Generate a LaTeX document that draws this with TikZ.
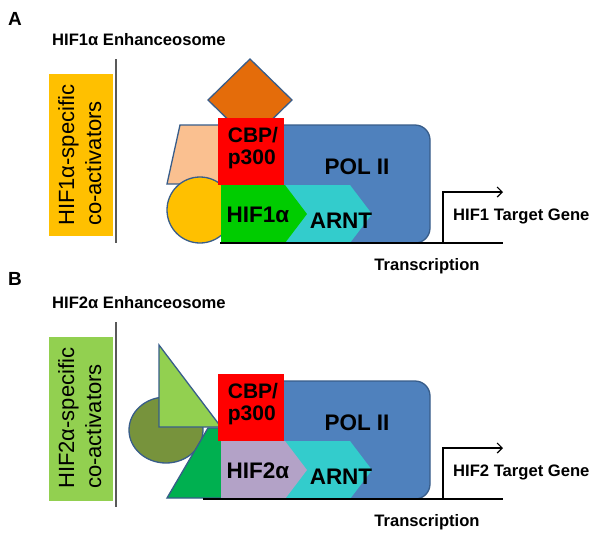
\documentclass[tikz,border=0pt]{standalone}
\usepackage{fontspec}
\setmainfont{Liberation Sans}
\usetikzlibrary{arrows.meta}
\definecolor{outc}{HTML}{385D8A}
\definecolor{goldc}{HTML}{FFC000}
\definecolor{diamc}{HTML}{E46C0A}
\definecolor{peachc}{HTML}{FAC090}
\definecolor{polc}{HTML}{4F81BD}
\definecolor{hifonec}{HTML}{00CC00}
\definecolor{arntc}{HTML}{33CCCC}
\definecolor{hiftwoc}{HTML}{B3A2C7}
\definecolor{ltgreenc}{HTML}{92D050}
\definecolor{olivec}{HTML}{77933C}
\definecolor{dkgreenc}{HTML}{00B050}
\definecolor{sepc}{HTML}{595959}
\begin{document}
\begin{tikzpicture}[x=1pt,y=-1pt,
  outl/.style={draw=outc, line width=1.3pt},
  big/.style={font=\fontsize{22.5}{22}\selectfont\bfseries, inner sep=0pt, align=left},
  cbp/.style={font=\fontsize{21}{22}\selectfont\bfseries, inner sep=0pt, align=left},
  lab/.style={font=\fontsize{16.6}{19}\selectfont\bfseries, inner sep=0pt},
  panel/.style={font=\fontsize{19}{22}\selectfont\bfseries, inner sep=0pt},
  rot/.style={font=\fontsize{22}{24}\selectfont, rotate=90, anchor=base west, inner sep=0pt},
  dna/.style={line width=1.2pt, black},
  sep/.style={line width=1.3pt, sepc}]
\useasboundingbox (0,0) rectangle (600,539);
\fill[white] (0,0) rectangle (600,539);

% ================= Panel A =================
\node[panel] (pA) at (15,19) {A};
\node[lab, anchor=base west] (hA) at (52,45) {HIF1α Enhanceosome};
\fill[goldc] (49,74) rectangle (113,236);
\node[rot] (rA1) at (74,226) {HIF1α-specific};
\node[rot] (rA2) at (101,226) {co-activators};
\coordinate (sA1) at (116,59);
\coordinate (sA2) at (116,243);
\draw[sep] (sA1) -- (sA2);

\begin{scope}
  % co-activators
  \draw[outl, fill=peachc] (180,125) -- (245,125) -- (258,184) -- (167,184) -- cycle;
  \draw[outl, fill=goldc] (200,210) circle (33);
  \draw[outl, fill=diamc] (250,59) -- (292,100) -- (250,141) -- (208,100) -- cycle;
  % POL II
  \draw[outl, fill=polc, rounded corners=15pt] (266,125) rectangle (430,243);
  % CBP
  \fill[red] (218,118) rectangle (284,185);
  % ARNT
  \fill[arntc] (283,185) -- (350,185) -- (372,214) -- (350,243) -- (283,243) -- cycle;
  % HIF1a
  \fill[hifonec] (221,185) -- (285,185) -- (307,214) -- (285,243) -- (221,243) -- cycle;
  \node[cbp] (cbpA) at (253,148) {CBP/\\p300};
  \node[big] (polA) at (357,167) {POL II};
  \node[big] (hifA) at (258,215) {HIF1α};
  \node[big] (arntA) at (341,221) {ARNT};
  \coordinate (bA1) at (220,243);
  \coordinate (bA2) at (503,243);
  \coordinate (tA0) at (443,243);
  \coordinate (tA1) at (503,192);
  \draw[dna] (bA1) -- (bA2);
  \draw[dna, -{Straight Barb[length=5pt,width=10pt]}] (tA0) |- (tA1);
  \node[lab, anchor=base west] (gA) at (453,220) {HIF1 Target Gene};
  \node[lab] (trA) at (427,266) {Transcription};
\end{scope}

% ================= Panel B =================
\node[panel] (pB) at (15,279) {B};
\node[lab, anchor=base west] (hB) at (52,308) {HIF2α Enhanceosome};
\fill[ltgreenc] (49,337) rectangle (113,501);
\node[rot] (rB1) at (74,489) {HIF2α-specific};
\node[rot] (rB2) at (101,489) {co-activators};
\coordinate (sB1) at (116,322);
\coordinate (sB2) at (116,507);
\draw[sep] (sB1) -- (sB2);

\begin{scope}[shift={(0,256)}]
  % co-activators
  \draw[outl, fill=olivec] (166,174) ellipse (37 and 33);
  \draw[outl, fill=dkgreenc] (167,242) -- (208,172) -- (255,172) -- (235,242) -- cycle;
  \draw[outl, fill=ltgreenc] (159,89) -- (221,171) -- (159,171) -- cycle;
  % POL II
  \draw[outl, fill=polc, rounded corners=15pt] (266,125) rectangle (430,243);
  % CBP
  \fill[red] (218,118) rectangle (284,185);
  % ARNT
  \fill[arntc] (283,185) -- (350,185) -- (372,214) -- (350,243) -- (283,243) -- cycle;
  % HIF2a
  \fill[hiftwoc] (221,185) -- (285,185) -- (307,214) -- (285,243) -- (221,243) -- cycle;
  \node[cbp] (cbpB) at (253,148) {CBP/\\p300};
  \node[big] (polB) at (357,167) {POL II};
  \node[big] (hifB) at (258,215) {HIF2α};
  \node[big] (arntB) at (341,221) {ARNT};
  \coordinate (bB1) at (203,243);
  \coordinate (bB2) at (503,243);
  \coordinate (tB0) at (443,243);
  \coordinate (tB1) at (503,192);
  \draw[dna] (bB1) -- (bB2);
  \draw[dna, -{Straight Barb[length=5pt,width=10pt]}] (tB0) |- (tB1);
  \node[lab, anchor=base west] (gB) at (453,220) {HIF2 Target Gene};
  \node[lab] (trB) at (427,266) {Transcription};
\end{scope}
\end{tikzpicture}
\end{document}
